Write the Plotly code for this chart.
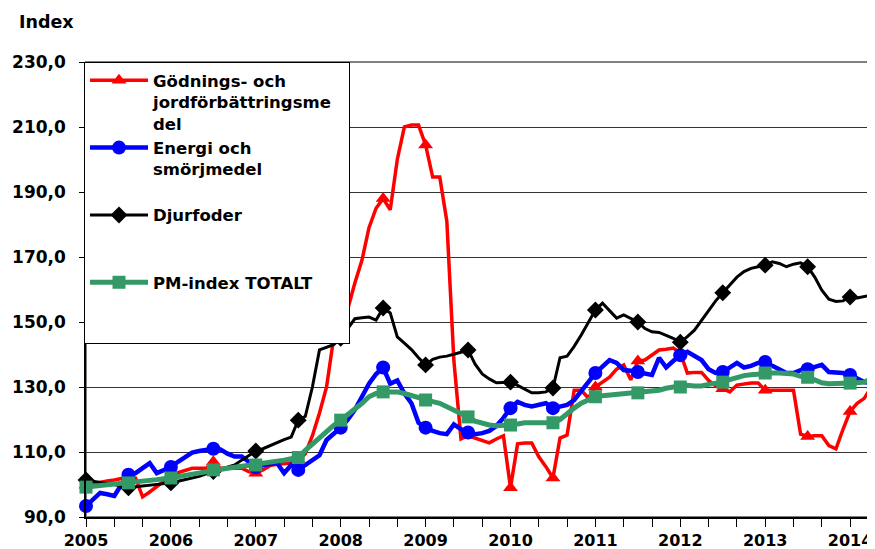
import plotly.graph_objects as go

# Monthly index values, Jan 2005 .. Apr 2014
start_year = 2005
godning = [99.8, 100.3, 100.8, 101.1, 101.4, 101.9, 102.3, 102.0, 96.2, 97.7, 99.2, 101.0,
           103.0, 103.6, 104.3, 105.0, 105.0, 105.0, 107.0, 105.0, 105.0, 105.0, 105.0, 104.0,
           103.5, 104.5, 105.8, 106.2, 106.4, 106.6, 107.5, 109.5, 115.0, 122.0, 130.0, 145.0,
           148.0, 154.0, 162.0, 169.0, 179.0, 185.0, 188.0, 184.5, 200.0, 210.0, 210.6, 210.6,
           204.5, 194.6, 194.6, 181.0, 138.0, 114.0, 115.0, 114.3, 113.5, 112.8, 114.0, 115.0,
           99.0, 112.5, 112.8, 112.8, 108.5, 105.5, 102.0, 114.3, 115.2, 129.0, 129.0, 126.6,
           130.0, 131.5, 133.0, 135.5, 136.8, 132.2, 138.0, 138.3, 140.0, 141.4, 141.6, 142.0,
           140.5, 134.3, 134.5, 134.5, 132.0, 130.3, 129.5, 128.5, 130.6, 131.0, 131.2, 131.2,
           129.0, 129.0, 129.0, 129.0, 129.0, 115.5, 114.8, 115.0, 115.0, 112.0, 111.0, 117.0,
           122.5, 125.0, 126.5, 130.0]
energi = [93.4, 95.5, 97.4, 97.0, 96.5, 100.0, 103.0, 103.5, 105.0, 106.6, 103.5, 104.5,
          105.4, 107.0, 108.5, 109.8, 110.3, 110.7, 111.0, 110.8, 109.5, 108.6, 108.6, 107.0,
          105.4, 106.0, 106.3, 106.6, 103.5, 106.0, 104.5, 106.0, 107.5, 109.0, 113.7, 115.5,
          117.5, 120.0, 123.0, 127.0, 131.0, 134.0, 136.0, 131.0, 132.0, 128.0, 125.0, 119.0,
          117.5, 116.5, 115.8, 115.5, 118.5, 117.0, 116.0, 115.5, 115.8, 116.5, 118.0, 120.5,
          123.5, 125.4, 124.5, 124.0, 124.5, 125.0, 123.5, 124.0, 124.5, 126.0, 129.0, 131.5,
          134.3, 136.5, 138.3, 137.4, 135.2, 135.0, 134.6, 134.2, 133.7, 139.0, 136.0, 138.0,
          139.8, 140.8, 139.5, 138.3, 135.5, 134.3, 134.6, 136.0, 137.4, 136.0, 136.5, 137.4,
          137.7, 136.5, 135.3, 134.3, 134.3, 135.2, 135.5, 136.0, 136.8, 134.6, 134.5, 134.3,
          133.7, 132.5, 131.5, 131.2]
djurfoder = [101.4, 101.0, 100.5, 100.2, 100.0, 99.5, 99.0, 99.3, 99.5, 99.8, 100.1, 100.3,
             100.5, 101.0, 101.5, 102.0, 102.5, 103.3, 104.0, 104.5, 105.3, 106.0, 107.5, 109.0,
             110.3, 111.0, 112.0, 113.0, 113.8, 114.6, 119.8, 121.0, 130.0, 141.4, 142.2, 143.0,
             145.0, 148.0, 151.0, 151.3, 151.5, 150.6, 154.3, 152.8, 145.4, 143.5, 141.5, 139.0,
             136.8, 138.5, 139.2, 139.5, 140.0, 140.7, 141.4, 137.0, 134.0, 132.5, 131.3, 131.5,
             131.5, 130.5, 129.3, 128.2, 128.2, 128.5, 129.7, 139.0, 139.5, 142.5, 146.0, 150.0,
             153.7, 155.8, 153.5, 151.2, 152.2, 151.0, 150.0, 148.0, 147.0, 146.8, 146.0, 145.0,
             143.8, 145.5, 147.5, 150.6, 153.5, 156.5, 159.0, 161.5, 163.8, 165.5, 166.5, 167.0,
             167.5, 168.5, 168.0, 167.0, 167.8, 168.2, 167.0, 163.8, 159.8, 157.0, 156.3, 156.5,
             157.7, 157.4, 157.8, 158.3]
pm_total = [99.2, 99.4, 99.6, 99.8, 100.0, 100.2, 100.5, 100.7, 100.9, 101.2, 101.5, 101.8,
            102.0, 102.4, 102.8, 103.2, 103.6, 104.0, 104.5, 104.7, 105.0, 105.3, 105.6, 105.8,
            106.0, 106.3, 106.7, 107.1, 107.5, 107.9, 108.3, 110.5, 112.5, 114.6, 116.5, 118.2,
            119.8, 121.5, 123.0, 125.0, 127.0, 128.0, 128.5, 128.5, 128.5, 128.0, 127.3, 126.6,
            126.0, 125.5, 125.0, 124.0, 122.8, 121.8, 120.8, 119.5, 118.9, 118.3, 118.1, 118.1,
            118.3, 118.6, 119.0, 119.0, 119.0, 119.0, 119.0, 120.0, 122.0, 123.5, 125.0, 126.2,
            127.0, 127.3, 127.5, 127.7, 128.0, 128.1, 128.2, 128.3, 128.5, 129.0, 129.6, 130.0,
            130.0, 130.5, 130.3, 130.3, 130.8, 131.2, 131.5, 132.3, 133.0, 133.5, 133.8, 134.0,
            134.3, 134.3, 134.3, 134.3, 134.0, 133.3, 133.0, 132.2, 131.3, 131.0, 131.0, 131.1,
            131.2, 131.3, 131.5, 132.5]

names = ["Gödnings- och<br>jordförbättringsme\u00a0\u00a0<br>del",
         "Energi och<br>smörjmedel<br>\u00a0",
         "Djurfoder<br>\u00a0<br>\u00a0",
         "PM-index TOTALT<br>\u00a0<br>\u00a0"]
year_labels = [str(y) for y in range(2005, 2015)]

x = [start_year + i / 12 for i in range(len(pm_total))]
mx = [v for i, v in enumerate(x) if i % 6 == 0]

series = [
    (godning, names[0], "#FF0000", 3.5, "triangle-up", 13),
    (energi, names[1], "#0000FF", 4.5, "circle", 14),
    (djurfoder, names[2], "#000000", 3, "diamond", 13),
    (pm_total, names[3], "#339966", 5, "square", 13),
]

fig = go.Figure()
for ys, name, col, lw, sym, ms in series:
    fig.add_trace(go.Scatter(x=x, y=ys, mode="lines", line=dict(color=col, width=lw),
                             showlegend=False, hoverinfo="skip"))
    my = [v for i, v in enumerate(ys) if i % 6 == 0]
    fig.add_trace(go.Scatter(x=mx, y=my, mode="markers", cliponaxis=False,
                             marker=dict(symbol=sym, size=ms, color=col),
                             showlegend=False, hoverinfo="skip"))
for ys, name, col, lw, sym, ms in series:
    fig.add_trace(go.Scatter(x=[None], y=[None], mode="lines+markers", name=name,
                             line=dict(color=col, width=lw),
                             marker=dict(symbol=sym, size=ms, color=col)))

tickvals = [start_year + k / 3 for k in range(28)]
ticktext = [year_labels[k // 3] if k % 3 == 0 else "" for k in range(28)]

# page body has an 8px margin: figure is placed at (8, 8) in the 875x549 window
OFF = 8
W, H = 875 - OFF, 549 - OFF
L, R, T, B = 86 - OFF, 3, 62 - OFF, 32
pw = W - L - R
ph = H - T - B

fig.update_layout(
    template="none",
    width=W, height=H,
    margin=dict(l=L, r=R, t=T, b=B, autoexpand=False),
    paper_bgcolor="white", plot_bgcolor="white",
    separators=",.",
    font=dict(family="DejaVu Sans", size=17, color="black", weight="bold"),
    showlegend=True,
    legend=dict(x=(84 - 86) / pw, y=1.0, xanchor="left", yanchor="top",
                bgcolor="white", bordercolor="black", borderwidth=1,
                font=dict(family="DejaVu Sans", size=16.5, color="black", weight="bold"),
                valign="top", itemwidth=58, tracegroupgap=0),
    xaxis=dict(range=[2005, 2005 + pw / 84.9], tickmode="array", tickvals=tickvals,
               ticktext=ticktext, ticks="outside", ticklen=8, tickcolor="black",
               showgrid=False, zeroline=False, showline=True, linecolor="black",
               linewidth=1.5, tickfont=dict(size=16), ticklabelstandoff=0,
               automargin=False),
    yaxis=dict(range=[90, 230], dtick=20, tick0=90, tickformat=".1f", ticks="outside",
               ticklen=5, tickcolor="black", showgrid=True, gridcolor="#333333",
               gridwidth=1, zeroline=False, showline=True, linecolor="black",
               linewidth=1.5, tickfont=dict(size=17), ticklabelstandoff=10,
               automargin=False),
    shapes=[dict(type="rect", xref="paper", yref="paper", x0=0, x1=1, y0=0, y1=1,
                 line=dict(color="#808080", width=2), layer="below")],
    annotations=[dict(text="Index", xref="paper", yref="paper",
                      x=(46 - 86) / pw, y=1 + (62 - 22) / ph, showarrow=False,
                      xanchor="center", yanchor="middle",
                      font=dict(size=17.5, family="DejaVu Sans", weight="bold"))],
)

fig.write_html("out.html")
